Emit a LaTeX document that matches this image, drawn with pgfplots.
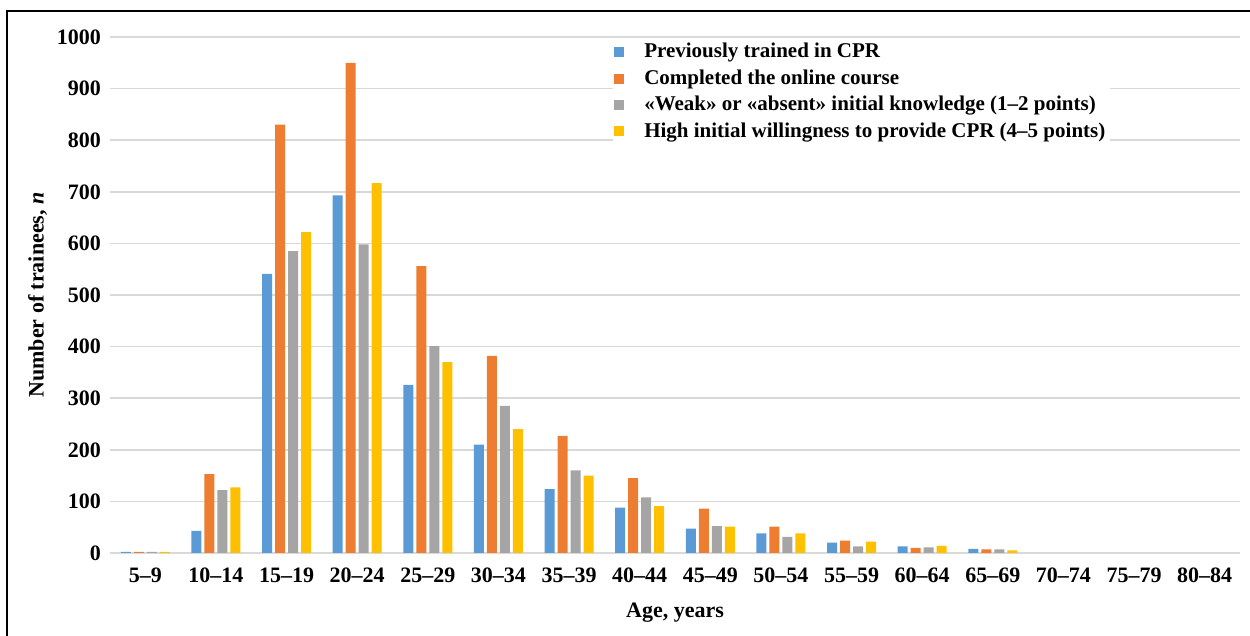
\documentclass[border=0pt]{standalone}
\usepackage{fontspec}
\setmainfont{Liberation Serif}
\usepackage{pgfplots}
\pgfplotsset{compat=1.18}

\definecolor{cblue}{HTML}{5B9BD5}
\definecolor{corange}{HTML}{ED7D31}
\definecolor{cgray}{HTML}{A5A5A5}
\definecolor{cyellow}{HTML}{FFC000}
\definecolor{cgrid}{HTML}{D9D9D9}

\begin{document}
\begin{tikzpicture}
% page size: 1250x636 px at 2 px per pt, axis origin at (110,553) px
\path[use as bounding box] (-55pt,-41.5pt) rectangle (570pt,276.5pt);
\begin{axis}[
    scale only axis,
    width=565pt, height=258pt,
    ybar=1.5pt, bar width=5pt,
    xmin=-0.5, xmax=15.5,
    ymin=0, ymax=1000,
    ytick distance=100,
    xtick={0,...,15},
    xticklabels={5–9,10–14,15–19,20–24,25–29,30–34,35–39,40–44,45–49,50–54,55–59,60–64,65–69,70–74,75–79,80–84},
    axis line style={draw=none},
    major tick length=0pt,
    ymajorgrids, grid style={cgrid, line width=0.8pt},
    /pgf/number format/assume math mode=true,
    /pgf/number format/1000 sep={},
    tick label style={font=\fontsize{11}{13}\selectfont\bfseries},
    yticklabel style={xshift=-1pt},
    xticklabel style={yshift=-4pt},
    label style={font=\fontsize{11}{13}\selectfont\bfseries},
    xlabel={Age, years},
    ylabel={Number of trainees, \textit{n}},
    xlabel style={at={(axis description cs:0.5,-0.116)}, anchor=center},
    ylabel style={at={(axis description cs:-0.064,0.5)}, anchor=center},
    legend style={at={(0.445,0.998)}, anchor=north west, draw=none, fill=white,
        inner sep=0.5pt,
        font=\fontsize{10.5}{12}\selectfont\bfseries, row sep=0.4pt,
        cells={anchor=west}},
    legend image code/.code={\fill[#1] (0pt,-2.5pt) rectangle (5pt,2.5pt); \path (13pt,0pt);},
]
\addplot[fill=cblue, draw=none] coordinates {
(0,2) (1,43) (2,541) (3,693) (4,326) (5,210) (6,124) (7,88) (8,47) (9,38) (10,20) (11,13) (12,8)};
\addlegendentry{Previously trained in CPR}
\addplot[fill=corange, draw=none] coordinates {
(0,2) (1,153) (2,830) (3,950) (4,556) (5,382) (6,227) (7,145) (8,86) (9,51) (10,24) (11,10) (12,7)};
\addlegendentry{Completed the online course}
\addplot[fill=cgray, draw=none] coordinates {
(0,2) (1,122) (2,585) (3,598) (4,401) (5,285) (6,160) (7,108) (8,52) (9,31) (10,13) (11,11) (12,7)};
\addlegendentry{«Weak» or «absent» initial knowledge (1–2 points)}
\addplot[fill=cyellow, draw=none] coordinates {
(0,2) (1,127) (2,622) (3,717) (4,370) (5,240) (6,150) (7,91) (8,51) (9,38) (10,22) (11,14) (12,5)};
\addlegendentry{High initial willingness to provide CPR (4–5 points)}
\end{axis}
\draw[black, line width=0.6pt] (-51.5pt,-41.5pt) -- (-51.5pt,271pt) -- (570pt,271pt);
\end{tikzpicture}
\end{document}
